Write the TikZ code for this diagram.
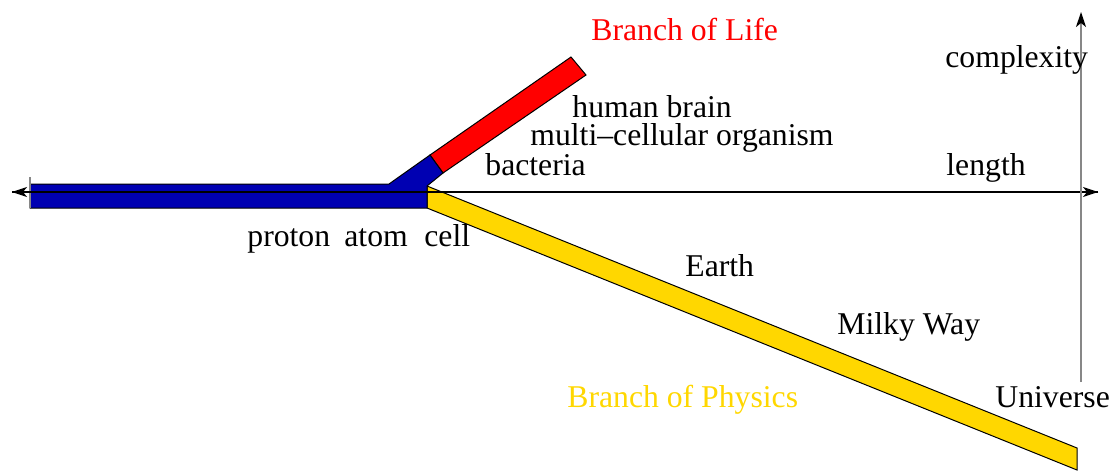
\documentclass[tikz,border=0pt]{standalone}
\usepackage{fontspec}
\setmainfont{Liberation Serif}
\usetikzlibrary{arrows.meta}
\definecolor{lifeblue}{RGB}{0,0,178}
\definecolor{lifered}{RGB}{255,0,0}
\definecolor{physgold}{RGB}{255,215,0}
\definecolor{axisgray}{RGB}{135,135,135}
\tikzset{
  lbl/.style={anchor=base west, inner sep=0pt, font=\fontsize{15.85}{19}\selectfont},
  branchbar/.style={draw=black, line width=0.5pt, line join=miter},
  axistip/.style={-{Stealth[length=7.5pt, width=5pt, inset=2pt]}}
}

\begin{document}
\begin{tikzpicture}[x=0.5pt, y=-0.5pt]
  \useasboundingbox (0,0) rectangle (1112,471);

  % --- Branches ---
  \filldraw[branchbar, fill=physgold] (427,186) -- (1077,448) -- (1077,470) -- (427,208) -- cycle;
  \filldraw[branchbar, fill=lifered] (430,155) -- (571,57) -- (586,75) -- (443,173) -- cycle;
  \filldraw[branchbar, fill=lifeblue] (30,184) -- (389,184) -- (430,155) -- (443,173)
    -- (427,186) -- (427,208) -- (30,208) -- cycle;

  % --- Axes ---
  \coordinate (lenleft) at (12,192);
  \coordinate (lenright) at (1098,192);
  \coordinate (cpxbottom) at (1081,382);
  \coordinate (cpxtop) at (1081,12);
  \coordinate (ticktop) at (30,177);
  \coordinate (tickbottom) at (30,208);
  \draw[axisgray, line width=0.75pt] (ticktop) -- (tickbottom);
  \draw[axistip, line width=0.75pt] (lenleft) -- (lenright);
  \draw[axistip, line width=0.75pt] (lenright) -- (lenleft);
  \draw[axisgray, line width=0.75pt, -{Stealth[length=7.5pt, width=5pt, inset=2pt, black]}] (cpxbottom) -- (cpxtop);

  % --- Labels ---
  \node[lbl, text=lifered] (lifelbl) at (591,40) {Branch of Life};
  \node[lbl] (cpxlbl) at (945,67) {complexity};
  \node[lbl, text depth=0pt] (brainlbl) at (572,117) {human brain};
  \node[lbl] (multilbl) at (530,145) {multi–cellular organism};
  \node[lbl] (bactlbl) at (485,175) {bacteria};
  \node[lbl] (lenlbl) at (946,175) {length};
  \node[lbl] (protonlbl) at (247,246) {proton};
  \node[lbl] (atomlbl) at (344,246) {atom};
  \node[lbl] (celllbl) at (424,246) {cell};
  \node[lbl] (earthlbl) at (685,276) {Earth};
  \node[lbl] (milkylbl) at (837,334) {Milky Way};
  \node[lbl, text=physgold] (physlbl) at (567,407) {Branch of Physics};
  \node[lbl] (univlbl) at (995,407) {Universe};
\end{tikzpicture}
\end{document}
